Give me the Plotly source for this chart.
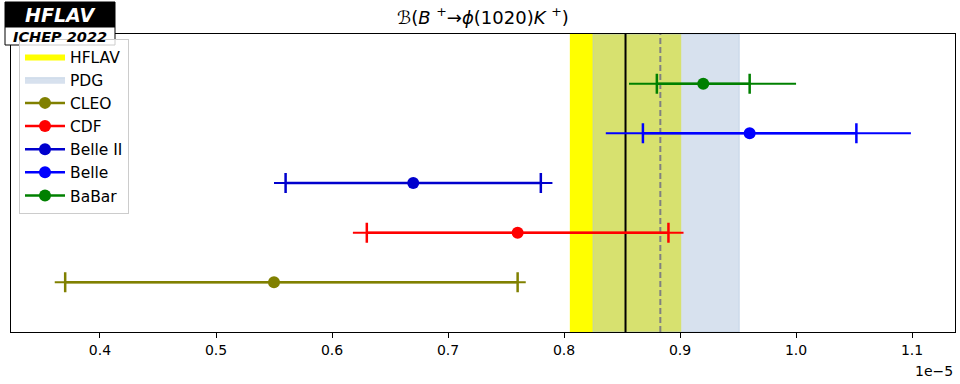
import plotly.graph_objects as go

# Values in units of 1e-5
experiments = ["CLEO", "CDF", "Belle II", "Belle", "BaBar"]
colors = ["#808000", "#ff0000", "#0000cd", "#0000ff", "#008000"]
central = [0.55, 0.76, 0.67, 0.96, 0.92]
stat_lo = [0.18, 0.13, 0.11, 0.092, 0.04]
stat_hi = [0.21, 0.13, 0.11, 0.092, 0.04]
tot_lo = [0.189, 0.142, 0.12, 0.124, 0.064]
tot_hi = [0.217, 0.143, 0.12, 0.139, 0.08]

hflav_val, hflav_lo, hflav_hi = 0.853, 0.048, 0.048
pdg_val, pdg_lo, pdg_hi = 0.883, 0.058, 0.068

tickvals = [0.4, 0.5, 0.6, 0.7, 0.8, 0.9, 1.0, 1.1]
ticktext = ["0.4", "0.5", "0.6", "0.7", "0.8", "0.9", "1.0", "1.1"]

ymin, ymax = -1, 5
FONT = "DejaVu Sans"

fig = go.Figure()

# HFLAV band
a, b = hflav_val - hflav_lo, hflav_val + hflav_hi
fig.add_trace(go.Scatter(x=[a, b, b, a, a], y=[ymin, ymin, ymax, ymax, ymin],
                         fill="toself", fillcolor="#ffff00", mode="lines",
                         line=dict(width=0, color="#ffff00"), name="HFLAV",
                         hoverinfo="skip"))
# PDG band
a, b = pdg_val - pdg_lo, pdg_val + pdg_hi
fig.add_trace(go.Scatter(x=[a, b, b, a, a], y=[ymin, ymin, ymax, ymax, ymin],
                         fill="toself", fillcolor="rgba(176,196,222,0.5)", mode="lines",
                         line=dict(width=1, color="rgba(176,196,222,0.6)"), name="PDG",
                         hoverinfo="skip"))
# central lines
fig.add_trace(go.Scatter(x=[hflav_val, hflav_val], y=[ymin, ymax], mode="lines",
                         line=dict(color="black", width=2), showlegend=False))
fig.add_trace(go.Scatter(x=[pdg_val, pdg_val], y=[ymin, ymax], mode="lines",
                         line=dict(color="gray", width=2, dash="6px,3px"), showlegend=False))

for i, (name, c) in enumerate(zip(experiments, colors)):
    # total error
    fig.add_trace(go.Scatter(x=[central[i]], y=[i], mode="markers",
                             marker=dict(size=0.1, color=c, opacity=0),
                             error_x=dict(type="data", symmetric=False,
                                          array=[tot_hi[i]], arrayminus=[tot_lo[i]],
                                          color=c, thickness=2, width=0),
                             showlegend=False))
    # stat error with ticks
    fig.add_trace(go.Scatter(x=[central[i]], y=[i], mode="markers",
                             marker=dict(size=12, color=c),
                             error_x=dict(type="data", symmetric=False,
                                          array=[stat_hi[i]], arrayminus=[stat_lo[i]],
                                          color=c, thickness=2.5, width=10),
                             showlegend=False))
    # legend entry
    fig.add_trace(go.Scatter(x=[None], y=[None], mode="lines+markers", name=name,
                             line=dict(color=c, width=2.5),
                             marker=dict(size=12, color=c)))

W, H = 960, 384
L, R, T, B = 11, 955, 34, 332
pw, ph = R - L, B - T

def px(x):
    return (x - L) / pw

def py(y):
    return (B - y) / ph

fig.add_shape(type="rect", xref="paper", yref="paper",
              x0=px(5), x1=px(115), y0=py(27), y1=py(2),
              fillcolor="black", line=dict(color="black", width=1), layer="above")
fig.add_shape(type="rect", xref="paper", yref="paper",
              x0=px(5), x1=px(115), y0=py(45), y1=py(27),
              fillcolor="white", line=dict(color="black", width=1), layer="above")
fig.add_annotation(text="<b><i>HFLAV</i></b>", xref="paper", yref="paper",
                   x=px(60), y=py(15), showarrow=False, xanchor="center", yanchor="middle",
                   font=dict(family=FONT, size=19, color="white"))
fig.add_annotation(text="<b><i>ICHEP 2022</i></b>", xref="paper", yref="paper",
                   x=px(60), y=py(36.5), showarrow=False, xanchor="center", yanchor="middle",
                   font=dict(family=FONT, size=14.5, color="black"))
fig.add_annotation(text="1e−5", xref="paper", yref="paper",
                   x=1, y=py(371), xanchor="right", yanchor="middle", showarrow=False,
                   font=dict(family=FONT, size=14, color="black"))
fig.add_annotation(text="ℬ(<i>B</i> <sup>+</sup>→<i>ϕ</i>(1020)<i>K</i> <sup>+</sup>)",
                   xref="paper", yref="paper", x=0.5, y=py(16), showarrow=False,
                   xanchor="center", yanchor="middle",
                   font=dict(family=FONT, size=18, color="black"))

fig.update_layout(
    width=W, height=H,
    margin=dict(l=L, r=W - R, t=T, b=H - B),
    plot_bgcolor="white", paper_bgcolor="white",
    font=dict(family=FONT, size=14, color="black"),
    showlegend=True,
    legend=dict(x=px(19), y=py(39), xanchor="left", yanchor="top",
                bgcolor="rgba(255,255,255,0.8)", bordercolor="#cccccc", borderwidth=1,
                font=dict(family=FONT, size=15.5), itemwidth=40, traceorder="normal"),
    xaxis=dict(range=[0.3233, 1.137], tickvals=tickvals, ticktext=ticktext,
               ticks="outside", ticklen=5, tickcolor="black", showgrid=False,
               zeroline=False, showline=True, linecolor="black", linewidth=1, mirror=True),
    yaxis=dict(range=[ymin, ymax], showticklabels=False, ticks="", showgrid=False,
               zeroline=False, showline=True, linecolor="black", linewidth=1, mirror=True),
)

fig.write_html("out.html", config={"displayModeBar": False},
               post_script="document.body.style.margin='0';")
